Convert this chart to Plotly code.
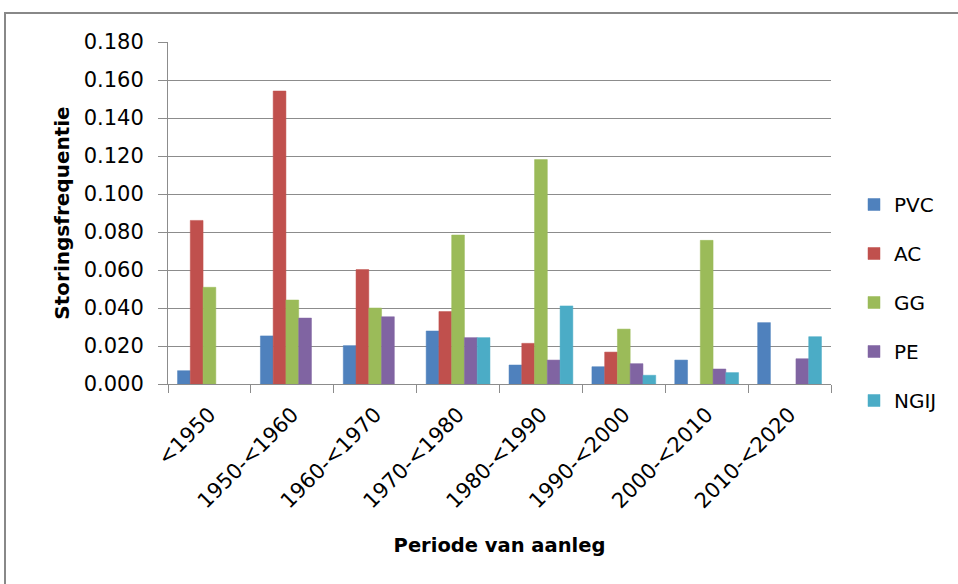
import plotly.graph_objects as go

# Storingsfrequentie per periode van aanleg en materiaal
periods = ["<1950", "1950-<1960", "1960-<1970", "1970-<1980",
           "1980-<1990", "1990-<2000", "2000-<2010", "2010-<2020"]

pvc = [0.0070, 0.0253, 0.0202, 0.0279, 0.0100, 0.0091, 0.0126, 0.0323]
ac = [0.0861, 0.1542, 0.0602, 0.0381, 0.0214, 0.0168, None, None]
gg = [0.0509, 0.0442, 0.0400, 0.0784, 0.1181, 0.0289, 0.0756, None]
pe = [None, 0.0347, 0.0354, 0.0244, 0.0126, 0.0107, 0.0079, 0.0133]
ngij = [None, None, None, 0.0244, 0.0411, 0.0046, 0.0060, 0.0249]

series = [
    ("PVC", pvc, "#4F81BD"),
    ("AC", ac, "#C0504D"),
    ("GG", gg, "#9BBB59"),
    ("PE", pe, "#8064A2"),
    ("NGIJ", ngij, "#4BACC6"),
]

FONT = "DejaVu Sans"
GRID = "#8c8c8c"

fig = go.Figure()
for name, vals, color in series:
    fig.add_trace(go.Bar(
        x=periods, y=vals, name=name, legendgroup=name,
        marker=dict(color=color, line=dict(color=color, width=0.5)),
    ))

# outer chart frame
L, R, T, B = 168, 127, 42, 200
W, H = 958, 584
pw, ph = W - L - R, H - T - B
def px(x):
    return (x - L) / pw
def py(y):
    return (H - B - y) / ph

fig.add_shape(type="rect", xref="paper", yref="paper",
              x0=px(5), x1=px(990), y0=py(13), y1=py(620),
              line=dict(color="#888888", width=2), fillcolor="rgba(0,0,0,0)",
              layer="below")

fig.update_layout(
    width=W, height=H,
    margin=dict(l=L, r=R, t=T, b=B),
    paper_bgcolor="white", plot_bgcolor="white",
    barmode="group", bargap=0.23, bargroupgap=0,
    font=dict(family=FONT, size=18, color="#000000"),
    legend=dict(x=px(854), y=py(185), xanchor="left", yanchor="top",
                font=dict(family=FONT, size=20, color="#000000"),
                tracegroupgap=20, itemwidth=30, bgcolor="rgba(0,0,0,0)"),
    xaxis=dict(
        showgrid=False, showline=True, linecolor=GRID, linewidth=1,
        ticks="outside", tickson="boundaries", ticklen=8, tickcolor=GRID,
        tickangle=-45, tickfont=dict(family=FONT, size=21),
        ticklabelstandoff=9,
        title=dict(text="<b>Periode van aanleg</b>", standoff=26,
                   font=dict(family=FONT, size=19.5)),
    ),
    yaxis=dict(
        range=[0, 0.18], dtick=0.02, tickformat=".3f",
        showgrid=True, gridcolor=GRID, gridwidth=1,
        showline=True, linecolor=GRID, linewidth=1,
        ticks="outside", ticklen=9, tickcolor=GRID,
        ticklabelstandoff=10,
        tickfont=dict(family=FONT, size=21),
        title=dict(text="<b>Storingsfrequentie</b>", standoff=8,
                   font=dict(family=FONT, size=20)),
    ),
)

fig.write_html("out.html")
